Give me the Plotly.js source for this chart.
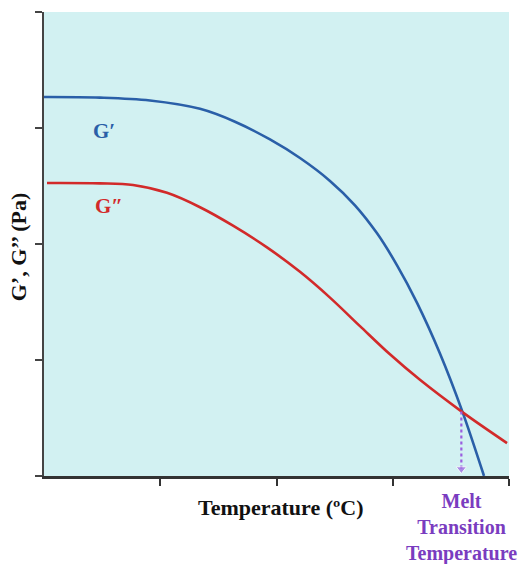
<!DOCTYPE html>
<html>
<head>
<meta charset="utf-8">
<script src="https://cdn.plot.ly/plotly-3.0.1.min.js"></script>
<style>html,body{margin:0;padding:0;background:#fff;}#chart{width:524px;height:564px;}</style>
</head>
<body>
<div id="chart"></div>
<script>
// Storage modulus G'
const gPrimeX = [0, 0.482, 0.912, 1.342, 1.643, 1.944, 2.202, 2.460, 2.675, 2.865, 3.037, 3.209, 3.406, 3.596, 3.785];
const gPrimeY = [3.267, 3.262, 3.237, 3.165, 3.054, 2.901, 2.741, 2.544, 2.334, 2.092, 1.816, 1.493, 1.057, 0.564, 0];
// Loss modulus G''
const gDoubleX = [0.026, 0.482, 0.766, 1.058, 1.342, 1.626, 1.918, 2.202, 2.460, 2.718, 2.976, 3.234, 3.596, 3.983];
const gDoubleY = [2.526, 2.523, 2.508, 2.441, 2.317, 2.158, 1.971, 1.760, 1.538, 1.292, 1.049, 0.829, 0.553, 0.284];
// Melt transition (crossover) arrow
const meltX = [3.59, 3.59];
const meltY = [0.556, 0.06];
const xTicks = [1, 2, 3, 4];
const yTicks = [0, 1, 2, 3, 4];

const serif = 'Liberation Serif, Times New Roman, serif';
const blue = '#2a5fa8';
const red = '#d22a2a';
const purple = '#7a3cc0';

const traces = [
  {x: gPrimeX, y: gPrimeY, mode: 'lines', line: {color: blue, width: 2.6, shape: 'spline', smoothing: 1}, hoverinfo: 'skip'},
  {x: gDoubleX, y: gDoubleY, mode: 'lines', line: {color: red, width: 2.6, shape: 'spline', smoothing: 1}, hoverinfo: 'skip'},
  {x: meltX, y: meltY, mode: 'lines+markers', line: {color: '#9a5ee0', width: 2.2, dash: 'dot'},
   marker: {symbol: ['circle', 'triangle-down'], size: [0, 9], color: '#9a5ee0'}, hoverinfo: 'skip'}
];

const layout = {
  width: 524, height: 564,
  margin: {l: 44, r: 15, t: 12, b: 88},
  paper_bgcolor: '#ffffff',
  plot_bgcolor: '#d2f1f2',
  showlegend: false,
  xaxis: {range: [0, 4], tickvals: xTicks, showticklabels: false, ticks: 'outside', ticklen: 7, tickwidth: 2,
          tickcolor: '#333', showline: true, linecolor: '#333', linewidth: 2.5, showgrid: false, zeroline: false, fixedrange: true},
  yaxis: {range: [0, 4], tickvals: yTicks, showticklabels: false, ticks: 'outside', ticklen: 7, tickwidth: 2,
          tickcolor: '#444', showline: true, linecolor: '#444', linewidth: 2.5, showgrid: false, zeroline: false, fixedrange: true},
  annotations: [
    {text: '<b>Temperature (ºC)</b>', xref: 'paper', yref: 'paper', x: 0.51, y: -0.068, xanchor: 'center', yanchor: 'middle',
     showarrow: false, font: {family: serif, size: 22, color: '#111'}},
    {text: '<b>G’, G’’ (Pa)</b>', xref: 'paper', yref: 'paper', x: -0.056, y: 0.495, xanchor: 'center', yanchor: 'middle',
     textangle: -90, showarrow: false, font: {family: serif, size: 22, color: '#111'}},
    {text: '<b>Melt<br>Transition<br>Temperature</b>', xref: 'paper', yref: 'paper', x: 0.898, y: -0.025, xanchor: 'center', yanchor: 'top',
     showarrow: false, font: {family: serif, size: 20, color: purple}},
    {text: '<b>G′</b>', xref: 'x', yref: 'y', x: 0.52, y: 2.97, xanchor: 'center', yanchor: 'middle', showarrow: false,
     font: {family: serif, size: 21, color: blue}},
    {text: '<b>G″</b>', xref: 'x', yref: 'y', x: 0.56, y: 2.33, xanchor: 'center', yanchor: 'middle', showarrow: false,
     font: {family: serif, size: 21, color: red}}
  ]
};

Plotly.newPlot('chart', traces, layout, {staticPlot: true, displayModeBar: false});
</script>
</body>
</html>
